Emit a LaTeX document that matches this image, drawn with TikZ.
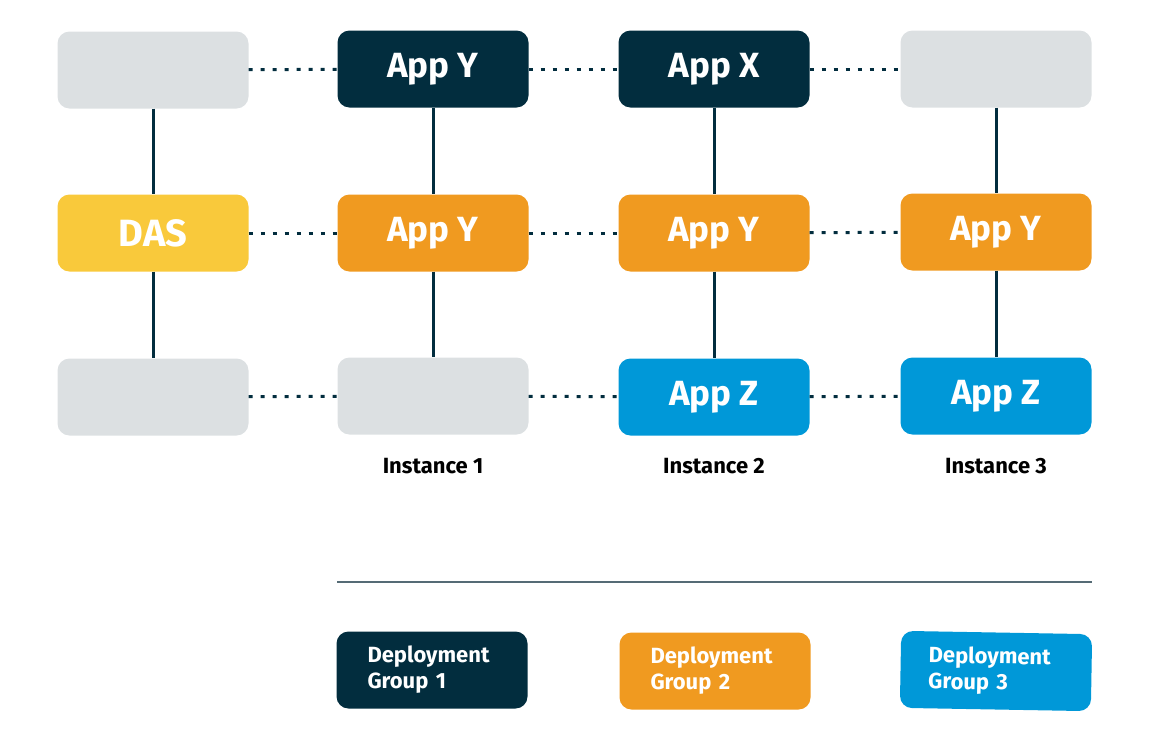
\documentclass[tikz,border=0pt]{standalone}
\usepackage{fontspec}
\setmainfont{Fira Sans}
\usetikzlibrary{positioning}
\definecolor{mynavy}{RGB}{2,45,62}
\definecolor{myorange}{RGB}{240,154,32}
\definecolor{myyellow}{RGB}{249,201,59}
\definecolor{myblue}{RGB}{0,152,216}
\definecolor{mygray}{RGB}{220,224,226}
\definecolor{myslate}{RGB}{85,107,117}

\tikzset{
  appbox/.style={rounded corners=12, minimum width=191, minimum height=77, inner sep=0,
    text=white, font=\fontsize{35}{35}\selectfont\bfseries},
  legbox/.style={rounded corners=12, minimum width=191, minimum height=77, inner xsep=31,
    text width=129, align=left, text=white, font=\fontsize{22}{26}\selectfont\bfseries},
  inst/.style={font=\fontsize{22}{22}\selectfont\bfseries},
  link/.style={mynavy, line width=3},
  dots/.style={mynavy, line width=3, dash pattern=on 4 off 8},
  sep/.style={myslate, line width=1.5}
}

\begin{document}
\begin{tikzpicture}[x=1pt, y=-1pt]
\useasboundingbox (0,0) rectangle (1150,745);

% rows of boxes
\node[appbox, fill=mygray] (g1) at (153,70) {};
\node[appbox, fill=mynavy] (y1) at (433,69) {App Y};
\node[appbox, fill=mynavy] (x1) at (714,69) {App X};
\node[appbox, fill=mygray] (g2) at (996,69) {};

\node[appbox, fill=myyellow, font=\fontsize{38}{38}\selectfont\bfseries] (das) at (153,233) {DAS};
\node[appbox, fill=myorange] (y2) at (433,233) {App Y};
\node[appbox, fill=myorange] (y3) at (714,233) {App Y};
\node[appbox, fill=myorange] (y4) at (996,232) {App Y};

\node[appbox, fill=mygray] (g3) at (153,397) {};
\node[appbox, fill=mygray] (g4) at (433,396) {};
\node[appbox, fill=myblue] (z1) at (714,397) {App Z};
\node[appbox, fill=myblue] (z2) at (996,396) {App Z};

% vertical links
\draw[link] (g1) -- (das);
\draw[link] (das) -- (g3);
\draw[link] (y1) -- (y2);
\draw[link] (y2) -- (g4);
\draw[link] (x1) -- (y3);
\draw[link] (y3) -- (z1);
\draw[link] (g2) -- (y4);
\draw[link] (y4) -- (z2);

% dotted links
\draw[dots] (g1) -- (y1);
\draw[dots] (y1) -- (x1);
\draw[dots] (x1) -- (g2);
\draw[dots] (das) -- (y2);
\draw[dots] (y2) -- (y3);
\draw[dots] (y3) -- (y4);
\draw[dots] (g3) -- (g4);
\draw[dots] (g4) -- (z1);
\draw[dots] (z1) -- (z2);

\node[inst] (i1) at (433,466) {Instance 1};
\node[inst] (i2) at (714,466) {Instance 2};
\node[inst] (i3) at (996,466) {Instance 3};

% legend
\coordinate (s1) at (337,582);
\coordinate (s2) at (1092,582);
\draw[sep] (s1) -- (s2);

\node[legbox, fill=mynavy] (d1) at (432,670) {Deployment\\Group 1};
\node[legbox, fill=myorange] (d2) at (715,671) {Deployment\\Group 2};
\node[legbox, fill=myblue, rotate=-1, inner xsep=28, text width=135] (d3) at (996,671) {Deployment\\Group 3};
\end{tikzpicture}
\end{document}
